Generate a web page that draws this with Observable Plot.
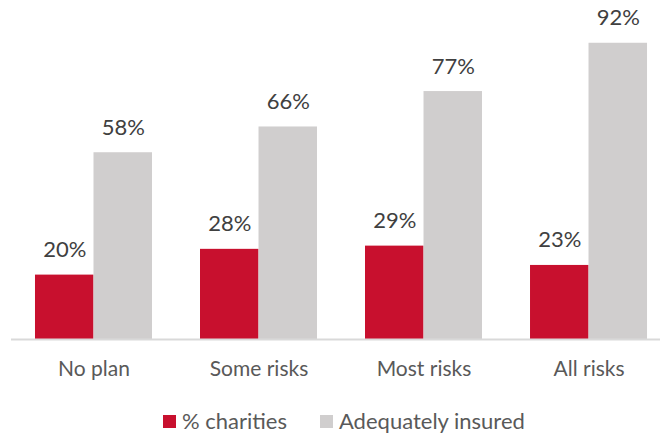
<!DOCTYPE html>
<html>
<head>
<meta charset="utf-8">
<script src="https://cdn.jsdelivr.net/npm/d3@7"></script>
<script src="https://cdn.jsdelivr.net/npm/@observablehq/plot@0.6"></script>
<style>
  body { margin: 0; background: #fff; font-family: Lato, "Open Sans", sans-serif; }
  #chart { width: 660px; }
  .legend { display: flex; align-items: center; margin-top: 14px; padding-left: 163px; font-size: 22px; color: #595959; line-height: 24px; }
  .legend .sw { width: 13px; height: 13px; display: inline-block; margin-right: 6px; }
  .legend .item { display: flex; align-items: center; margin-right: 33px; }
</style>
</head>
<body>
<div id="chart"></div>
<script>
const categories = ["No plan", "Some risks", "Most risks", "All risks"];
const seriesNames = ["% charities", "Adequately insured"];
const charities = [20, 28, 29, 23];
const insured = [58, 66, 77, 92];
const colors = ["#C8102E", "#D0CECE"];

const data = [];
categories.forEach((c, i) => {
  data.push({category: c, series: seriesNames[0], value: charities[i]});
  data.push({category: c, series: seriesNames[1], value: insured[i]});
});

const W = 660, H = 395;
const mL = 11, mR = 0, mT = 17, mB = 56;
const pi = 0.2909, po = 0.112, align = 0.649;
const step = (W - mL - mR) / (categories.length - pi + 2 * po);
const bw = step * (1 - pi);
const half = bw / 2;

const red = data.filter(d => d.series === seriesNames[0]);
const grey = data.filter(d => d.series === seriesNames[1]);

const chart = Plot.plot({
  width: W, height: H,
  marginLeft: mL, marginRight: mR, marginTop: mT, marginBottom: mB,
  style: {fontFamily: "Lato, 'Open Sans', sans-serif", color: "#595959", background: "#fff"},
  x: {domain: categories, paddingInner: pi, paddingOuter: po, align: align, round: false, label: null},
  y: {domain: [0, 100], axis: null},
  marks: [
    Plot.barY(red, {x: "category", y: "value", fill: colors[0], insetRight: half}),
    Plot.barY(grey, {x: "category", y: "value", fill: colors[1], insetLeft: half}),
    Plot.ruleY([0], {stroke: "#D9D9D9", strokeWidth: 2}),
    Plot.text(red, {x: "category", y: "value", text: d => d.value + "%", dx: -half / 2, dy: -25, lineAnchor: "middle", fontSize: 22, fill: "#404040"}),
    Plot.text(grey, {x: "category", y: "value", text: d => d.value + "%", dx: half / 2, dy: -25, lineAnchor: "middle", fontSize: 22, fill: "#404040"}),
    Plot.axisX({tickSize: 0, tickPadding: 22, fontSize: 21, label: null, fill: "#595959"})
  ]
});
document.getElementById("chart").appendChild(chart);

const legend = document.createElement("div");
legend.className = "legend";
seriesNames.forEach((s, i) => {
  const item = document.createElement("span");
  item.className = "item";
  const sw = document.createElement("span");
  sw.className = "sw";
  sw.style.background = colors[i];
  item.appendChild(sw);
  item.appendChild(document.createTextNode(s));
  legend.appendChild(item);
});
document.body.appendChild(legend);
</script>
</body>
</html>
